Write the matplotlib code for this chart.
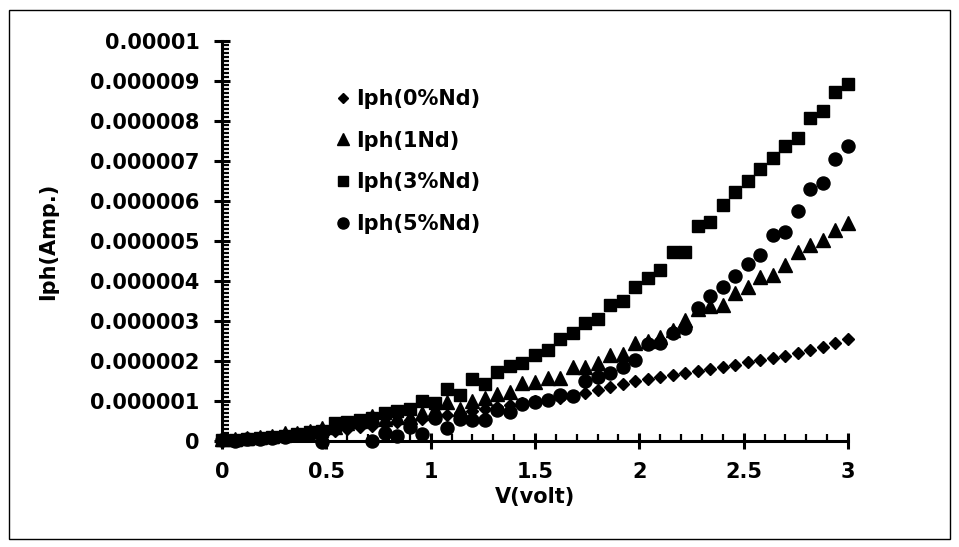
import matplotlib
matplotlib.use("Agg")
import matplotlib.pyplot as plt
from matplotlib.patches import Rectangle
from matplotlib.ticker import MultipleLocator
import numpy as np

voltage = [0.00, 0.06, 0.12, 0.18, 0.24, 0.30, 0.36, 0.42, 0.48, 0.54,
           0.60, 0.66, 0.72, 0.78, 0.84, 0.90, 0.96, 1.02, 1.08, 1.14,
           1.20, 1.26, 1.32, 1.38, 1.44, 1.50, 1.56, 1.62, 1.68, 1.74,
           1.80, 1.86, 1.92, 1.98, 2.04, 2.10, 2.16, 2.22, 2.28, 2.34,
           2.40, 2.46, 2.52, 2.58, 2.64, 2.70, 2.76, 2.82, 2.88, 2.94, 3.00]

# currents in micro-amps (scaled to A when plotted)
iph_0nd = [0.02, 0.03, 0.05, 0.07, 0.09, 0.12, 0.15, 0.18, 0.22, 0.26,
           0.30, 0.34, 0.38, 0.42, 0.47, 0.52, 0.56, 0.60, 0.65, 0.70,
           0.75, 0.80, 0.85, 0.90, 0.95, 1.00, 1.03, 1.08, 1.13, 1.20,
           1.27, 1.35, 1.42, 1.50, 1.55, 1.60, 1.65, 1.70, 1.75, 1.80,
           1.85, 1.90, 1.97, 2.03, 2.08, 2.13, 2.20, 2.27, 2.35, 2.45, 2.55]

iph_1nd = [0.05, 0.05, 0.08, 0.10, 0.12, 0.20, 0.20, 0.25, 0.32, 0.35,
           0.45, 0.50, 0.62, 0.55, 0.60, 0.60, 0.70, 0.80, 0.97, 0.80,
           1.00, 1.07, 1.18, 1.22, 1.45, 1.48, 1.57, 1.57, 1.85, 1.85,
           1.95, 2.15, 2.17, 2.45, 2.50, 2.60, 2.77, 3.02, 3.30, 3.38,
           3.40, 3.70, 3.85, 4.10, 4.15, 4.40, 4.73, 4.90, 5.03, 5.28, 5.45]

iph_3nd = [0.02, 0.03, 0.06, 0.08, 0.10, 0.12, 0.18, 0.22, 0.25, 0.45,
           0.48, 0.52, 0.58, 0.70, 0.75, 0.80, 1.00, 0.95, 1.30, 1.15,
           1.55, 1.42, 1.72, 1.88, 1.95, 2.15, 2.28, 2.55, 2.70, 2.95,
           3.05, 3.40, 3.50, 3.85, 4.08, 4.28, 4.73, 4.73, 5.38, 5.48,
           5.90, 6.22, 6.50, 6.80, 7.08, 7.37, 7.58, 8.08, 8.25, 8.72, 8.93]

iph_5nd = [0.02, 0.00, 0.05, 0.05, 0.08, 0.10, 0.15, 0.18, -0.03, 0.35,
           0.40, 0.45, 0.00, 0.20, 0.12, 0.35, 0.18, 0.57, 0.32, 0.55,
           0.52, 0.52, 0.78, 0.73, 0.92, 0.98, 1.02, 1.15, 1.12, 1.50,
           1.60, 1.70, 1.85, 2.02, 2.42, 2.45, 2.70, 2.82, 3.32, 3.62,
           3.85, 4.12, 4.42, 4.65, 5.15, 5.22, 5.75, 6.30, 6.45, 7.05, 7.38]

labels = ["Iph(0%Nd)", "Iph(1Nd)", "Iph(3%Nd)", "Iph(5%Nd)"]
y_ticks = [0, 0.000001, 0.000002, 0.000003, 0.000004, 0.000005,
           0.000006, 0.000007, 0.000008, 0.000009, 0.00001]
y_tick_labels = ["0", "0.000001", "0.000002", "0.000003", "0.000004",
                 "0.000005", "0.000006", "0.000007", "0.000008",
                 "0.000009", "0.00001"]
x_ticks = [0, 0.5, 1, 1.5, 2, 2.5, 3]
x_tick_labels = ["0", "0.5", "1", "1.5", "2", "2.5", "3"]

plt.rcParams['font.family'] = ['DejaVu Sans']
plt.rcParams['font.weight'] = 'bold'

FS = 15
W, H = 959, 547
fig = plt.figure(figsize=(W / 100, H / 100), dpi=100)
ax = fig.add_axes([222 / W, (H - 441) / H, (848 - 222) / W, 400 / H])

series = [(iph_0nd, 'D', 6.5), (iph_1nd, '^', 9.4), (iph_3nd, 's', 9.2), (iph_5nd, 'o', 9.4)]
for (vals, mk, ms), lab in zip(series, labels):
    ax.plot(voltage, np.array(vals) * 1e-6, linestyle='none', marker=mk,
            markersize=ms, color='black', label=lab, clip_on=False)

ax.set_xlim(0, 3)
ax.set_ylim(0, 0.00001)
ax.set_xticks(x_ticks)
ax.set_xticklabels(x_tick_labels)
ax.set_yticks(y_ticks)
ax.set_yticklabels(y_tick_labels)
ax.xaxis.set_minor_locator(MultipleLocator(0.1))
ax.yaxis.set_minor_locator(MultipleLocator(0.0000001))

for s in ['top', 'right']:
    ax.spines[s].set_visible(False)
for s in ['left', 'bottom']:
    ax.spines[s].set_linewidth(2.2)
    ax.spines[s].set_color('black')

ax.tick_params(which='major', direction='inout', length=12, width=2.2,
               labelsize=FS, colors='black')
ax.tick_params(axis='y', which='major', pad=10)
ax.tick_params(axis='x', which='major', pad=9)
ax.tick_params(which='minor', direction='in', length=5, width=1.6)
for t in ax.get_xticklabels() + ax.get_yticklabels():
    t.set_fontweight('bold')

ax.set_xlabel("V(volt)", fontsize=FS, fontweight='bold')
ax.set_ylabel("Iph(Amp.)", fontsize=FS, fontweight='bold')
ax.xaxis.set_label_coords((535 - 222) / 626, (441 - 487) / 400)
ax.yaxis.set_label_coords((58 - 222) / 626, 0.5)

leg = ax.legend(loc='upper left', bbox_to_anchor=((334 - 222) / 626, (441 - 89) / 400),
                frameon=False, fontsize=FS, markerscale=0.85, handletextpad=0.15,
                handlelength=0.9, labelspacing=1.04, borderaxespad=0, borderpad=0)
for t in leg.get_texts():
    t.set_fontweight('bold')

fig.patches.append(Rectangle((9 / W, 8 / H), (950 - 9) / W, (538 - 9) / H,
                             transform=fig.transFigure, fill=False,
                             edgecolor='black', linewidth=1.0))

fig.savefig("out.png", dpi=100)
